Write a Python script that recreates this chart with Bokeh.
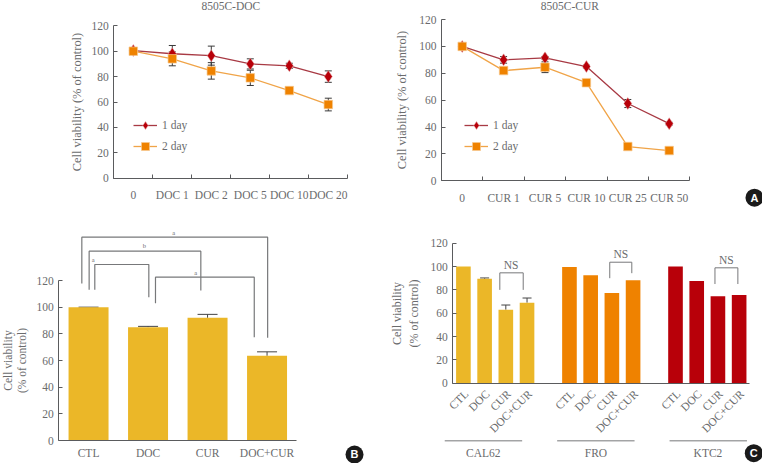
import math
from bokeh.plotting import figure
from bokeh.layouts import column, row
from bokeh.models import (ColumnDataSource, FixedTicker, Legend, LegendItem,
                          TeeHead, Whisker, Range1d)
from bokeh.core.properties import value
from bokeh.embed import file_html
from bokeh.resources import INLINE

FONT = "Liberation Serif"
TXT = "#6a6b6d"
AX = "#5a5b5d"
YEL, ORG, RED = "#ebb728", "#ef8200", "#b80009"

doc_labels = ["0", "DOC 1", "DOC 2", "DOC 5", "DOC 10", "DOC 20"]
doc_day1 = [100.5, 98, 96.5, 90, 88.5, 80]
doc_day2 = [100, 94, 84.5, 79, 69, 58]
doc_err1 = [0, 6.5, 7.5, 4, 2, 4.5]
doc_err2 = [0, 5.5, 6.5, 6, 2, 5]

cur_labels = ["0", "CUR 1", "CUR 5", "CUR 10", "CUR 25", "CUR 50"]
cur_day1 = [100, 90, 91.5, 85, 57.5, 42.5]
cur_day2 = [100, 82, 84.5, 73, 25.5, 22.5]
cur_err1 = [1, 2.5, 1, 1, 3, 1]
cur_err2 = [0.5, 1, 4, 2, 1, 1]

b_labels = ["CTL", "DOC", "CUR", "DOC+CUR"]
b_values = [100, 85, 92, 63.5]
b_err = [0, 0.6, 2.6, 3]
b_br_xs = [[0.387, 0.387, 3.51, 3.51], [0.51, 0.51, 2.387, 2.387],
           [0.605, 0.605, 1.513, 1.513], [1.625, 1.625, 3.285, 3.285]]
b_br_ys = [[117.7, 152.5, 152.5, 77], [113, 142, 142, 112.5],
           [113, 132, 132, 107.5], [103, 122.5, 122.5, 77.5]]
b_br_text = ["a", "b", "a", "a"]
b_br_tx = [1.93, 1.44, 0.58, 2.3]
b_br_ty = [156, 146, 136, 126]

c_labels = ["CTL", "DOC", "CUR", "DOC+CUR"]
c_groups = ["CAL62", "FRO", "KTC2"]
c_slots = [0, 1, 2, 3, 5, 6, 7, 8, 10, 11, 12, 13]
c_values = [100, 89.5, 63, 69, 99.7, 92.5, 77.4, 88.3, 100, 87.7, 74.6, 75.7]
c_err = [0, 0.7, 4, 4, 0, 0, 0, 0, 0, 0, 0, 0]
c_colors = [YEL] * 4 + [ORG] * 4 + [RED] * 4
c_br_xs = [[2.217, 2.217, 3.32, 3.32], [7.4, 7.4, 8.44, 8.44], [12.36, 12.36, 13.44, 13.44]]
c_br_ys = [[80, 94.6, 94.6, 80], [90, 103.7, 103.7, 94.3], [85, 98.9, 98.9, 85]]
c_ns_x = [2.75, 7.92, 12.9]
c_ns_y = [101.5, 111, 106]
c_grp_x0 = [-0.38, 4.92, 10.22]
c_grp_x1 = [3.27, 8.57, 13.87]
c_grp_y = [-49.4, -49.4, -49.4]
c_grp_tx = [1.44, 6.75, 12.03]
c_grp_ty = [-59.4, -59.4, -59.4]


def base(W, H, ox, oy, xu, yu, x_end, title_px="12px"):
    """Canvas W x H whose frame fills it; axes cross at the data origin (ox, oy in canvas pixels)."""
    p = figure(width=W, height=H, min_border=0, min_border_left=0, min_border_right=0,
               min_border_top=0, min_border_bottom=0,
               x_range=Range1d(-ox / xu, (W - ox) / xu), y_range=Range1d(-(H - oy) / yu, oy / yu),
               toolbar_location=None, output_backend="svg", tools="")
    p.grid.visible = False
    p.outline_line_color = None
    p.xaxis.fixed_location = 0
    p.yaxis.fixed_location = 0
    p.xaxis.bounds = (0, x_end)
    p.yaxis.bounds = (0, 120)
    p.yaxis.ticker = FixedTicker(ticks=[0, 20, 40, 60, 80, 100, 120], minor_ticks=[])
    for ax in (p.xaxis[0], p.yaxis[0]):
        ax.axis_line_color = AX
        ax.major_tick_line_color = AX
        ax.minor_tick_line_color = AX
        ax.major_label_text_font = FONT
        ax.major_label_text_color = TXT
        ax.major_label_text_font_size = "11.5px"
        ax.axis_label_text_font = FONT
        ax.axis_label_text_color = TXT
        ax.axis_label_text_font_size = title_px
        ax.axis_label_text_font_style = "normal"
        ax.major_tick_out = 0
    p.yaxis.major_tick_in = 4
    p.yaxis.minor_tick_line_color = None
    p.yaxis.major_label_standoff = 5
    return p


def badge(p, x, y, letter):
    p.scatter([x], [y], marker="circle", size=18, fill_color="#1a1a1a", line_color=None)
    p.text([x], [y], text=[letter], text_align="center", text_baseline="middle", text_color="white",
           text_font=value("Liberation Sans"), text_font_style="bold", text_font_size="11px")


def line_panel(ox, oy, xu, yu, labels, d1, d2, e1, e2, title, title_x, title_y, leg_xy, stand):
    p = base(381, 212, ox, oy, xu, yu, 6, "12.4px")
    xs = [i + 0.5 for i in range(len(labels))]
    p.xaxis.ticker = FixedTicker(ticks=xs, minor_ticks=list(range(7)))
    p.xaxis.major_tick_line_color = None
    p.xaxis.minor_tick_in = 4
    p.xaxis.minor_tick_out = 0
    p.xaxis.major_label_overrides = {x: l for x, l in zip(xs, labels)}
    p.xaxis.major_label_standoff = 11
    p.yaxis.axis_label = "Cell viability (% of control)"
    p.yaxis.axis_label_standoff = stand
    for d, e in ((d1, e1), (d2, e2)):
        src = ColumnDataSource(dict(x=xs, u=[a + b for a, b in zip(d, e)], l=[a - b for a, b in zip(d, e)]))
        p.add_layout(Whisker(base="x", upper="u", lower="l", source=src, line_color="#3a3a3a", line_width=1,
                             upper_head=TeeHead(size=7, line_color="#3a3a3a", line_width=1),
                             lower_head=TeeHead(size=7, line_color="#3a3a3a", line_width=1)))
    l1 = p.line(xs, d1, line_color="#a83a44", line_width=1.3)
    s1 = p.scatter(xs, d1, marker="diamond", size=12, fill_color=RED, line_color="#e8b0b0", line_width=0.5)
    l2 = p.line(xs, d2, line_color="#f0a448", line_width=1.3)
    s2 = p.scatter(xs, d2, marker="square", size=8.5, fill_color=ORG, line_color="#f7c98f", line_width=0.7)
    leg = Legend(items=[LegendItem(label="1 day", renderers=[l1, s1]),
                        LegendItem(label="2 day", renderers=[l2, s2])],
                 location=leg_xy, padding=0, margin=0, spacing=1, glyph_width=24, glyph_height=20,
                 label_standoff=5, background_fill_alpha=0, border_line_alpha=0,
                 label_text_font=FONT, label_text_font_size="11.5px", label_text_color=TXT)
    p.add_layout(leg, "center")
    p.text([title_x], [title_y], text=[title], text_align="center", text_baseline="middle",
           text_font=value(FONT), text_font_size="11.5px", text_color=TXT)
    return p


a1 = line_panel(113.3, 177.7, 39.0, 1.27, doc_labels, doc_day1, doc_day2, doc_err1, doc_err2,
                "8505C-DOC", 3.0, 135.9, (133, 56), 4)
a2 = line_panel(60, 180.3, 41.4, 1.344, cur_labels, cur_day1, cur_day2, cur_err1, cur_err2,
                "8505C-CUR", 3.1, 130.4, (83, 56), 7)
badge(a2, 7.56, -12.6, "A")

# B
b = base(381, 251, 58.3, 228, 59.5, 1.3333, 4, "11.5px")
bx = [i + 0.5 for i in range(4)]
b.xaxis.ticker = FixedTicker(ticks=bx, minor_ticks=[])
b.xaxis.major_tick_line_color = None
b.xaxis.major_label_overrides = {x: l for x, l in zip(bx, b_labels)}
b.xaxis.major_label_standoff = 6
b.yaxis.axis_label = "Cell viability\n(% of control)"
b.yaxis.axis_label_standoff = 5
bsrc = ColumnDataSource(dict(x=bx, u=[v + e for v, e in zip(b_values, b_err)], l=b_values))
b.add_layout(Whisker(base="x", upper="u", lower="l", source=bsrc, line_color="#444444", line_width=1,
                     upper_head=TeeHead(size=20, line_color="#444444", line_width=1), lower_head=None))
b.vbar(x=bx, top=b_values, width=0.672, fill_color=YEL, line_color=None)
b.multi_line(b_br_xs, b_br_ys, line_color="#77787a", line_width=1.2)
b.text(b_br_tx, b_br_ty, text=b_br_text, text_font=value(FONT), text_font_size="6.5px", text_color=TXT,
       text_align="center", text_baseline="middle")
badge(b, 4.97, -10.5, "B")

# C
c = base(381, 251, 71.3, 170.7, 21.21, 1.1667, 14)
cx = [s + 0.5 for s in c_slots]
c.xaxis.ticker = FixedTicker(ticks=[], minor_ticks=[])
c.xaxis.major_tick_line_color = None
c.yaxis.axis_label = "Cell viability\n(% of control)"
c.yaxis.axis_label_standoff = 6
errview = [i for i, e in enumerate(c_err) if e > 0]
esrc = ColumnDataSource(dict(x=[cx[i] for i in errview], u=[c_values[i] + c_err[i] for i in errview],
                             l=[c_values[i] for i in errview]))
c.add_layout(Whisker(base="x", upper="u", lower="l", source=esrc, line_color="#444444", line_width=1,
                     upper_head=TeeHead(size=9, line_color="#444444", line_width=1), lower_head=None))
c.vbar(x=cx, top=c_values, width=0.69, bottom=0, fill_color=c_colors, line_color=None)
c.text([x + 0.14 for x in cx], [-7.5] * len(cx), text=[c_labels[i % 4] for i in range(len(cx))],
       angle=math.pi / 4, text_align="right", text_baseline="middle",
       text_font=value(FONT), text_font_size="11.5px", text_color=TXT)
c.multi_line(c_br_xs, c_br_ys, line_color="#77787a", line_width=1)
c.text(c_ns_x, c_ns_y, text=["NS"] * 3, text_font=value(FONT), text_font_size="11.5px", text_color=TXT,
       text_align="center", text_baseline="middle")
c.segment(c_grp_x0, c_grp_y, c_grp_x1, c_grp_y, line_color="#77787a", line_width=1)
c.text(c_grp_tx, c_grp_ty, text=c_groups, text_font=value(FONT), text_font_size="11.5px", text_color=TXT,
       text_align="center", text_baseline="middle")
badge(c, 14.19, -60, "C")

page = column(row(a1, a2, spacing=0), row(b, c, spacing=0), spacing=0)
open("out.html", "w").write(file_html(page, INLINE))
